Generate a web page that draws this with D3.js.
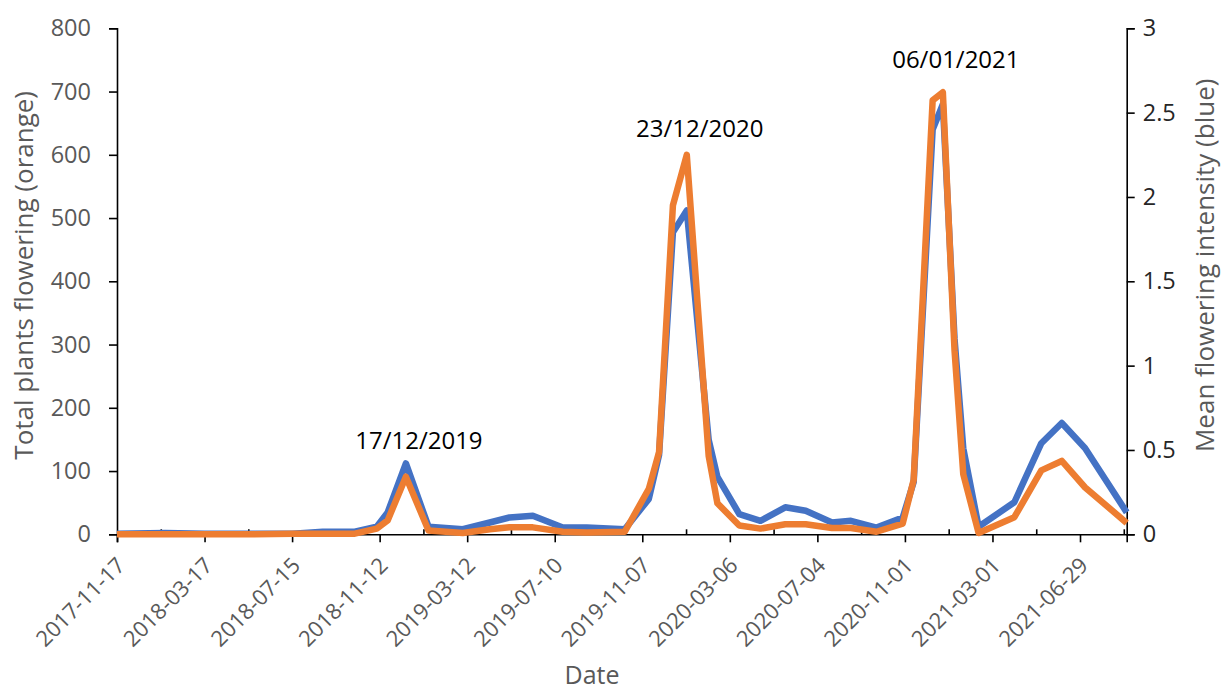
<!DOCTYPE html>
<html>
<head>
<meta charset="utf-8">
<script src="https://cdn.jsdelivr.net/npm/d3@7"></script>
<style>
  body { margin: 0; background: #fff; }
  text { font-family: "Open Sans", sans-serif; }
</style>
</head>
<body>
<div id="chart"></div>
<script>
// survey dates and series
const dates = ["2017-11-17","2018-01-22","2018-03-17","2018-05-18","2018-07-16","2018-08-26","2018-10-09",
  "2018-11-08","2018-11-23","2018-12-18","2019-01-18","2019-03-06","2019-04-12","2019-05-09","2019-06-10",
  "2019-07-21","2019-08-23","2019-10-14","2019-11-16","2019-11-30","2019-12-19","2020-01-07","2020-02-06",
  "2020-02-18","2020-03-19","2020-04-17","2020-05-21","2020-06-18","2020-07-24","2020-08-19","2020-09-23",
  "2020-10-29","2020-11-13","2020-12-09","2020-12-23","2021-01-08","2021-01-20","2021-02-10","2021-03-31",
  "2021-05-07","2021-06-04","2021-07-06","2021-09-01"];

// total plants flowering (left axis, orange)
const totalPlants = [0,0,0,0,1,1,1,9,22,91,6,2,8,11,11,4,3,4,72,130,520,600,124,49,14,9,16,16,10,10,4,
  17,86,686,699,291,95,2,27,101,116,74,18];

// mean flowering intensity (right axis, blue)
const meanIntensity = [0.004,0.008,0.004,0.004,0.004,0.015,0.015,0.045,0.13,0.42,0.045,0.03,0.07,0.10,0.11,
  0.04,0.04,0.03,0.21,0.47,1.79,1.92,0.56,0.34,0.12,0.08,0.16,0.14,0.07,0.08,0.04,0.10,0.31,2.40,2.55,
  1.16,0.51,0.045,0.19,0.54,0.66,0.51,0.13];

const xTickLabels = ["2017-11-17","2018-03-17","2018-07-15","2018-11-12","2019-03-12","2019-07-10",
  "2019-11-07","2020-03-06","2020-07-04","2020-11-01","2021-03-01","2021-06-29"];
const leftTicks = [0,100,200,300,400,500,600,700,800];
const rightTicks = [0,0.5,1,1.5,2,2.5,3];

const peakLabels = [
  {text: "17/12/2019", date: "2018-12-18", value: 135},
  {text: "23/12/2020", date: "2020-01-07", value: 628},
  {text: "06/01/2021", date: "2020-12-23", value: 738}
];

const xStart = "2017-11-17", xEnd = "2021-09-01";

const W = 1221, H = 691;
const margin = {top: 28.3, right: 94.3, bottom: 156.7, left: 117};
const width = W - margin.left - margin.right;
const height = H - margin.top - margin.bottom;

const parse = d3.utcParse("%Y-%m-%d");

const rows = dates.map((d, i) => ({date: parse(d), total: totalPlants[i], mean: meanIntensity[i]}));

const svg = d3.select("#chart").append("svg")
  .attr("width", W)
  .attr("height", H);

const g = svg.append("g")
  .attr("transform", "translate(" + margin.left + "," + margin.top + ")");

const x = d3.scaleUtc()
  .domain([parse(xStart), parse(xEnd)])
  .range([0, width]);

const yL = d3.scaleLinear().domain([0, 800]).range([height, 0]);
const yR = d3.scaleLinear().domain([0, 3]).range([height, 0]);

// left axis
const leftAxis = g.append("g")
  .call(d3.axisLeft(yL).tickValues(leftTicks).tickSize(8).tickPadding(18).tickFormat(d3.format("d")));
leftAxis.select(".domain").attr("stroke", "#000").attr("stroke-width", 1.6);
leftAxis.selectAll(".tick line").attr("stroke", "#000").attr("stroke-width", 1.6);
leftAxis.selectAll(".tick text").attr("fill", "#595959").style("font-size", "23.5px");

// right axis
const rightAxis = g.append("g")
  .attr("transform", "translate(" + width + ",0)")
  .call(d3.axisRight(yR).tickValues(rightTicks).tickSize(8).tickPadding(8).tickFormat(d => d));
rightAxis.select(".domain").attr("stroke", "#000").attr("stroke-width", 1.6);
rightAxis.selectAll(".tick line").attr("stroke", "#000").attr("stroke-width", 1.6);
rightAxis.selectAll(".tick text").attr("fill", "#262626").style("font-size", "23.5px");

// bottom axis: major ticks outside, minor ticks inside
const majorTicks = xTickLabels.map(parse);
const minorTicks = majorTicks.map(d => d3.utcDay.offset(d, 60)).filter(d => d <= parse(xEnd));

const bottomAxis = g.append("g")
  .attr("transform", "translate(0," + height + ")")
  .call(d3.axisBottom(x).tickValues(majorTicks).tickSize(8).tickFormat(""));
bottomAxis.select(".domain").attr("stroke", "#000").attr("stroke-width", 1.6);
bottomAxis.selectAll(".tick line").attr("stroke", "#000").attr("stroke-width", 1.6);

const minorAxis = g.append("g")
  .attr("transform", "translate(0," + height + ")")
  .call(d3.axisTop(x).tickValues(minorTicks).tickSize(5).tickFormat(""));
minorAxis.select(".domain").remove();
minorAxis.selectAll(".tick line").attr("stroke", "#000").attr("stroke-width", 1.6);

// rotated date labels
g.append("g").selectAll("text")
  .data(xTickLabels)
  .join("text")
  .attr("transform", d => "translate(" + (x(parse(d)) + 4) + "," + (height + 27) + ") rotate(-45)")
  .attr("text-anchor", "end")
  .attr("dy", "0.35em")
  .attr("fill", "#595959")
  .style("font-size", "22px")
  .text(d => d);

// lines
const blueLine = d3.line()
  .x(d => x(d.date))
  .y(d => yR(d.mean));

const orangeLine = d3.line()
  .x(d => x(d.date))
  .y(d => yL(d.total));

g.append("path")
  .datum(rows)
  .attr("fill", "none")
  .attr("stroke", "#4472C4")
  .attr("stroke-width", 6.5)
  .attr("stroke-linejoin", "round")
  .attr("d", blueLine);

g.append("path")
  .datum(rows)
  .attr("fill", "none")
  .attr("stroke", "#ED7D31")
  .attr("stroke-width", 6.5)
  .attr("stroke-linejoin", "round")
  .attr("d", orangeLine);

// peak labels
g.append("g").selectAll("text")
  .data(peakLabels)
  .join("text")
  .attr("x", d => x(parse(d.date)) + 13)
  .attr("y", d => yL(d.value))
  .attr("text-anchor", "middle")
  .attr("fill", "#000")
  .style("font-size", "24px")
  .text(d => d.text);

// axis titles
svg.append("text")
  .attr("transform", "translate(33," + (margin.top + 247) + ") rotate(-90)")
  .attr("text-anchor", "middle")
  .attr("fill", "#595959")
  .style("font-size", "26px")
  .text("Total plants flowering (orange)");

svg.append("text")
  .attr("transform", "translate(1214," + (margin.top + 237) + ") rotate(-90)")
  .attr("text-anchor", "middle")
  .attr("fill", "#595959")
  .style("font-size", "26px")
  .text("Mean flowering intensity (blue)");

svg.append("text")
  .attr("x", 592)
  .attr("y", 684)
  .attr("text-anchor", "middle")
  .attr("fill", "#595959")
  .style("font-size", "25px")
  .text("Date");
</script>
</body>
</html>
